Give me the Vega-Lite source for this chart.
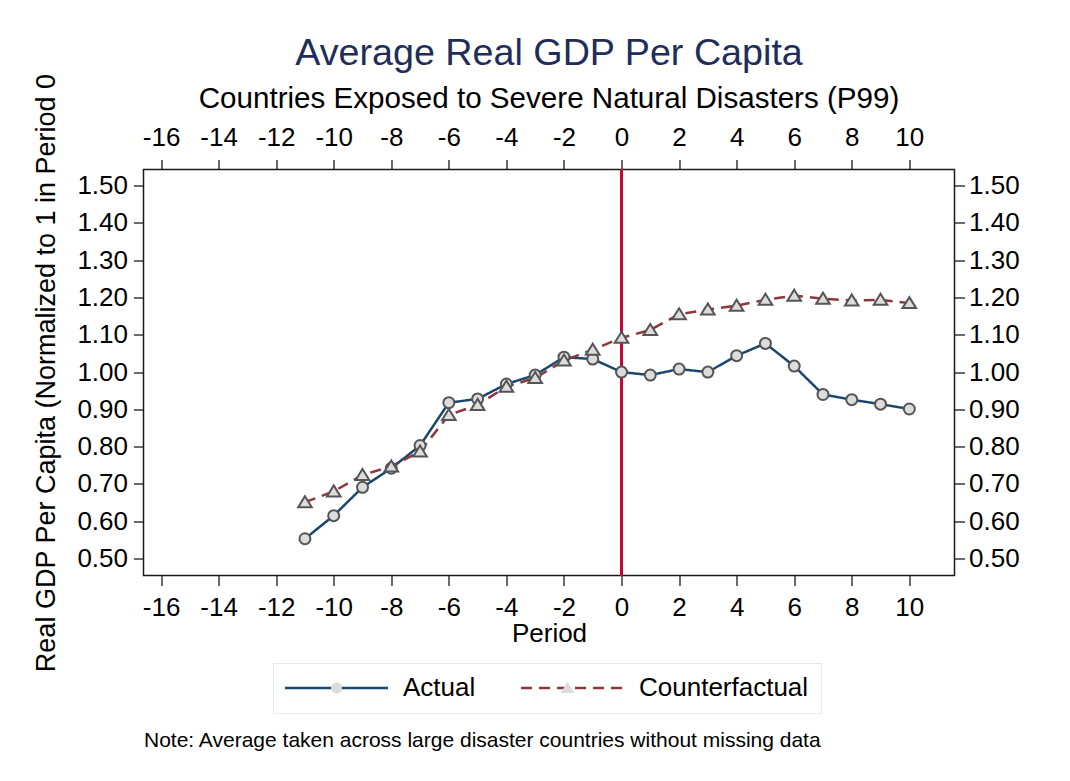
{
  "$schema": "https://vega.github.io/schema/vega-lite/v6.json",
  "autosize": {"type": "none"},
  "width": 811,
  "height": 406,
  "padding": {"left": 143.5, "top": 169.5, "right": 115.5, "bottom": 205.5},
  "background": "white",
  "config": {
    "font": "Liberation Sans",
    "view": {"stroke": "#1a1a1a", "strokeWidth": 1.5},
    "axis": {"grid": false, "domain": false, "tickColor": "#1a1a1a", "tickWidth": 1.3, "tickSize": 10, "labelColor": "black", "labelFontSize": 26, "titleColor": "black", "titleFontWeight": "normal"}
  },
  "title": {
    "text": "Average Real GDP Per Capita",
    "subtitle": "Countries Exposed to Severe Natural Disasters (P99)",
    "anchor": "middle",
    "fontSize": 37.7,
    "fontWeight": "normal",
    "color": "#1f2d5a",
    "subtitleFontSize": 29.6,
    "subtitleColor": "black",
    "subtitlePadding": 12,
    "offset": 12,
    "dy": 52
  },
  "data": {
    "values": [
      {"period": -11, "series": "Actual", "marker": "Actual", "value": 0.553},
      {"period": -10, "series": "Actual", "marker": "Actual", "value": 0.615},
      {"period": -9, "series": "Actual", "marker": "Actual", "value": 0.691},
      {"period": -8, "series": "Actual", "marker": "Actual", "value": 0.742},
      {"period": -7, "series": "Actual", "marker": "Actual", "value": 0.803},
      {"period": -6, "series": "Actual", "marker": "Actual", "value": 0.918},
      {"period": -5, "series": "Actual", "marker": "Actual", "value": 0.928},
      {"period": -4, "series": "Actual", "marker": "Actual", "value": 0.968},
      {"period": -3, "series": "Actual", "marker": "Actual", "value": 0.992},
      {"period": -2, "series": "Actual", "marker": "Actual", "value": 1.040},
      {"period": -1, "series": "Actual", "marker": "Actual", "value": 1.035},
      {"period": 0, "series": "Actual", "marker": "Actual", "value": 1.000},
      {"period": 1, "series": "Actual", "marker": "Actual", "value": 0.992},
      {"period": 2, "series": "Actual", "marker": "Actual", "value": 1.008},
      {"period": 3, "series": "Actual", "marker": "Actual", "value": 1.000},
      {"period": 4, "series": "Actual", "marker": "Actual", "value": 1.044},
      {"period": 5, "series": "Actual", "marker": "Actual", "value": 1.077},
      {"period": 6, "series": "Actual", "marker": "Actual", "value": 1.016},
      {"period": 7, "series": "Actual", "marker": "Actual", "value": 0.940},
      {"period": 8, "series": "Actual", "marker": "Actual", "value": 0.926},
      {"period": 9, "series": "Actual", "marker": "Actual", "value": 0.914},
      {"period": 10, "series": "Actual", "marker": "Actual", "value": 0.901},
      {"period": -11, "series": "Counterfactual", "marker": "Counterfactual", "value": 0.651},
      {"period": -10, "series": "Counterfactual", "marker": "Counterfactual", "value": 0.680},
      {"period": -9, "series": "Counterfactual", "marker": "Counterfactual", "value": 0.724},
      {"period": -8, "series": "Counterfactual", "marker": "Counterfactual", "value": 0.747},
      {"period": -7, "series": "Counterfactual", "marker": "Counterfactual", "value": 0.787},
      {"period": -6, "series": "Counterfactual", "marker": "Counterfactual", "value": 0.885},
      {"period": -5, "series": "Counterfactual", "marker": "Counterfactual", "value": 0.912},
      {"period": -4, "series": "Counterfactual", "marker": "Counterfactual", "value": 0.961},
      {"period": -3, "series": "Counterfactual", "marker": "Counterfactual", "value": 0.984},
      {"period": -2, "series": "Counterfactual", "marker": "Counterfactual", "value": 1.031},
      {"period": -1, "series": "Counterfactual", "marker": "Counterfactual", "value": 1.060},
      {"period": 0, "series": "Counterfactual", "marker": "Counterfactual", "value": 1.092},
      {"period": 1, "series": "Counterfactual", "marker": "Counterfactual", "value": 1.113},
      {"period": 2, "series": "Counterfactual", "marker": "Counterfactual", "value": 1.155},
      {"period": 3, "series": "Counterfactual", "marker": "Counterfactual", "value": 1.168},
      {"period": 4, "series": "Counterfactual", "marker": "Counterfactual", "value": 1.178},
      {"period": 5, "series": "Counterfactual", "marker": "Counterfactual", "value": 1.194},
      {"period": 6, "series": "Counterfactual", "marker": "Counterfactual", "value": 1.205},
      {"period": 7, "series": "Counterfactual", "marker": "Counterfactual", "value": 1.197},
      {"period": 8, "series": "Counterfactual", "marker": "Counterfactual", "value": 1.192},
      {"period": 9, "series": "Counterfactual", "marker": "Counterfactual", "value": 1.194},
      {"period": 10, "series": "Counterfactual", "marker": "Counterfactual", "value": 1.185}
    ]
  },
  "layer": [
    {
      "mark": {"type": "rule", "color": "#c8063a", "strokeWidth": 2.5},
      "encoding": {
        "x": {
          "datum": 0,
          "type": "quantitative",
          "scale": {"domain": [-16.61, 11.57], "nice": false, "zero": false},
          "axis": {
            "orient": "bottom",
            "offset": 154,
            "labels": false,
            "ticks": false,
            "title": "Note: Average taken across large disaster countries without missing data",
            "titleAnchor": "start",
            "titleAlign": "left",
            "titleFontSize": 21,
            "titlePadding": 0
          }
        }
      }
    },
    {
      "mark": {"type": "line", "strokeWidth": 2.5},
      "encoding": {
        "x": {
          "field": "period",
          "type": "quantitative",
          "scale": {"domain": [-16.61, 11.57], "nice": false, "zero": false},
          "axis": {
            "orient": "bottom",
            "values": [-16, -14, -12, -10, -8, -6, -4, -2, 0, 2, 4, 6, 8, 10],
            "labelExpr": "replace(datum.label, '\u2212', '-')",
            "labelPadding": 9,
            "title": "Period",
            "titleFontSize": 26,
            "titlePadding": 0
          }
        },
        "y": {
          "field": "value",
          "type": "quantitative",
          "scale": {"domain": [0.4544, 1.5434], "nice": false, "zero": false},
          "axis": {
            "orient": "left",
            "values": [0.5, 0.6, 0.7, 0.8, 0.9, 1.0, 1.1, 1.2, 1.3, 1.4, 1.5],
            "format": ".2f",
            "labelPadding": 6,
            "title": "Real GDP Per Capita (Normalized to 1 in Period 0",
            "titleFontSize": 27,
            "titlePadding": 16
          }
        },
        "stroke": {
          "field": "series",
          "type": "nominal",
          "scale": {"range": ["#1a476f", "#90353b"]},
          "legend": {
            "title": null,
            "orient": "none",
            "legendX": 129.5,
            "legendY": 493.5,
            "direction": "horizontal",
            "columns": 2,
            "symbolType": "M-5.15,0 L5.15,0",
            "symbolSize": 400,
            "symbolStrokeWidth": 2.5,
            "symbolOffset": 38.5,
            "labelFontSize": 26,
            "labelColor": "black",
            "labelOffset": 53.5,
            "labelLimit": 400,
            "columnPadding": 40,
            "padding": 12,
            "strokeColor": "#e4e9ec",
            "zindex": 1
          }
        },
        "strokeDash": {
          "field": "series",
          "type": "nominal",
          "scale": {"range": [[1, 0], [11, 7]]},
          "legend": {
            "title": null,
            "orient": "none",
            "legendX": 129.5,
            "legendY": 493.5,
            "direction": "horizontal",
            "columns": 2,
            "symbolType": "M-5.15,0 L5.15,0",
            "symbolSize": 400,
            "symbolStrokeWidth": 2.5,
            "symbolOffset": 38.5,
            "labelFontSize": 26,
            "labelColor": "black",
            "labelOffset": 53.5,
            "labelLimit": 400,
            "columnPadding": 40,
            "padding": 12,
            "strokeColor": "#e4e9ec",
            "zindex": 1
          }
        }
      }
    },
    {
      "mark": {"type": "point", "filled": true, "fill": "#dcdcdc", "stroke": "#555555", "strokeWidth": 2, "opacity": 1, "size": 100},
      "encoding": {
        "x": {
          "field": "period",
          "type": "quantitative",
          "scale": {"domain": [-16.61, 11.57], "nice": false, "zero": false},
          "axis": {
            "orient": "top",
            "values": [-16, -14, -12, -10, -8, -6, -4, -2, 0, 2, 4, 6, 8, 10],
            "labelExpr": "replace(datum.label, '\u2212', '-')",
            "labelPadding": 9,
            "title": null
          }
        },
        "y": {
          "field": "value",
          "type": "quantitative",
          "scale": {"domain": [0.4544, 1.5434], "nice": false, "zero": false},
          "axis": {
            "orient": "right",
            "values": [0.5, 0.6, 0.7, 0.8, 0.9, 1.0, 1.1, 1.2, 1.3, 1.4, 1.5],
            "format": ".2f",
            "labelPadding": 4,
            "title": null
          }
        },
        "shape": {
          "field": "marker",
          "type": "nominal",
          "scale": {
            "domain": ["Actual", "Counterfactual"],
            "range": [
              "M-1.1,0 A1.1,1.1 0 1,1 1.1,0 A1.1,1.1 0 1,1 -1.1,0 Z",
              "M0,-1.2 L1.36,1 L-1.36,1 Z"
            ]
          },
          "legend": {
            "title": null,
            "orient": "none",
            "legendX": 129.5,
            "legendY": 493.5,
            "direction": "horizontal",
            "columns": 2,
            "symbolSize": 100,
            "symbolFillColor": "#dcdcdc",
            "symbolStrokeColor": "#555555",
            "symbolStrokeWidth": 2,
            "symbolOffset": 38.5,
            "labelFontSize": 26,
            "labelOffset": 53.5,
            "labelLimit": 400,
            "labelOpacity": 0,
            "columnPadding": 40,
            "padding": 12,
            "zindex": 2
          }
        }
      }
    }
  ],
  "resolve": {"axis": {"x": "independent", "y": "independent"}}
}
